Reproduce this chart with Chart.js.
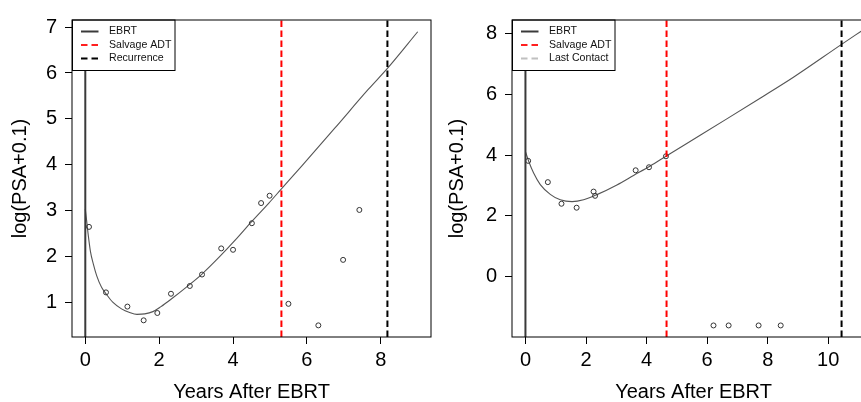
<!DOCTYPE html>
<html><head><meta charset="utf-8">
<script src="https://cdn.jsdelivr.net/npm/chart.js@4.4.0/dist/chart.umd.min.js"></script>
<style>
html,body{margin:0;padding:0;background:#fff;overflow:hidden;width:861px;height:402px;}
#wrap{position:relative;width:861px;height:402px;overflow:hidden;background:#fff;}
canvas{position:absolute;top:0;}
#c1{left:0px}
#c2{left:436px}
</style></head><body>
<div id="wrap"><canvas id="c1" width="436" height="402"></canvas><canvas id="c2" width="444" height="402"></canvas></div>
<script>
// ---------- Left panel data ----------
const xTicksA = [0, 2, 4, 6, 8];
const yTicksA = [1, 2, 3, 4, 5, 6, 7];
const xRangeA = [-0.36, 9.36];
const yRangeA = [0.236, 7.157];
const obsYearsA = [0.10, 0.56, 1.14, 1.58, 1.95, 2.32, 2.83, 3.16, 3.68, 4.00, 4.51, 4.76, 4.99, 5.50, 6.31, 6.98, 7.42];
const obsLogA   = [2.64, 1.21, 0.90, 0.60, 0.76, 1.18, 1.35, 1.60, 2.17, 2.14, 2.72, 3.16, 3.32, 0.96, 0.49, 1.92, 3.01];
const fitYearsA = [0, 0.04, 0.08, 0.14, 0.22, 0.31, 0.44, 0.57, 0.75, 0.98, 1.20, 1.40, 1.61, 1.83, 2.05, 2.32, 2.73, 3.16, 3.65, 4.07, 4.51, 4.97, 5.31, 5.87, 6.76, 7.66, 8.18, 9.00];
const fitLogA   = [3.03, 2.75, 2.46, 2.10, 1.82, 1.57, 1.32, 1.17, 0.99, 0.85, 0.77, 0.73, 0.74, 0.79, 0.90, 1.06, 1.32, 1.61, 2.00, 2.36, 2.76, 3.16, 3.47, 3.98, 4.80, 5.64, 6.10, 6.90];
const eventYearsA  = [0, 5.31, 8.18];
const legendLabelsA = ['EBRT', 'Salvage ADT', 'Recurrence'];

// ---------- Right panel data ----------
const xTicksB = [0, 2, 4, 6, 8, 10];
const yTicksB = [0, 2, 4, 6, 8];
const xRangeB = [-0.444, 11.544];
const yRangeB = [-1.98, 8.44];
const obsYearsB = [0.09, 0.74, 1.19, 1.69, 2.25, 2.30, 3.64, 4.08, 4.64, 6.21, 6.71, 7.70, 8.43];
const obsLogB   = [3.81, 3.11, 2.40, 2.27, 2.80, 2.66, 3.50, 3.60, 3.96, -1.60, -1.60, -1.60, -1.60];
const fitYearsB = [0, 0.11, 0.27, 0.49, 0.82, 1.15, 1.54, 1.92, 2.36, 3.02, 3.57, 4.12, 4.64, 5.77, 6.65, 7.75, 8.85, 10.44, 11.10];
const fitLogB   = [4.11, 3.79, 3.41, 3.03, 2.71, 2.53, 2.47, 2.53, 2.70, 3.02, 3.33, 3.64, 3.96, 4.65, 5.19, 5.87, 6.56, 7.64, 8.08];
const eventYearsB  = [0, 4.66, 10.44];
const legendLabelsB = ['EBRT', 'Salvage ADT', 'Last Contact'];

const xTitle = 'Years After EBRT';
const yTitle = 'log(PSA+0.1)';

// ---------- styles ----------
const FONT = '"Liberation Sans", Arial, Helvetica, sans-serif';
const eventStyles = [
  {color: '#3a3a3a', dash: [], width: 2},
  {color: '#ff0000', dash: [6.5, 3.5], width: 2},
  {color: '#000000', dash: [6.5, 3.5], width: 2}
];
const legendColorsA = ['#3a3a3a', '#ff2020', '#000000'];
const legendColorsB = ['#3a3a3a', '#ff2020', '#c0c0c0'];

const framePlugin = {
  id: 'frameLegend',
  afterDatasetsDraw(chart, args, opts) {
    const ctx = chart.ctx, a = chart.chartArea;
    ctx.save();
    const L = Math.round(a.left), T = Math.round(a.top);
    ctx.fillStyle = '#fff';
    ctx.fillRect(L, T, 103, 50);
    ctx.strokeStyle = '#000';
    ctx.lineWidth = 1;
    ctx.setLineDash([]);
    ctx.strokeRect(L + 0.5, T, 102.5, 50.5);
    opts.labels.forEach((t, i) => {
      const y = T + 11.5 + i * 13.5;
      ctx.beginPath();
      ctx.setLineDash(i === 0 ? [] : [6.5, 4]);
      ctx.strokeStyle = opts.colors[i];
      ctx.lineWidth = 2;
      ctx.moveTo(L + 9, y);
      ctx.lineTo(L + 26.5, y);
      ctx.stroke();
      ctx.setLineDash([]);
      ctx.fillStyle = '#111';
      ctx.font = '10.6px ' + FONT;
      ctx.textBaseline = 'middle';
      ctx.textAlign = 'left';
      ctx.fillText(t, L + 37, y);
    });
    ctx.strokeStyle = '#000';
    ctx.lineWidth = 1;
    ctx.strokeRect(L, T, Math.round(a.right) - L, Math.round(a.bottom) - T);
    ctx.restore();
  }
};

function build(canvasId, d) {
  const datasets = [];
  datasets.push({
    data: d.fitX.map((x, i) => ({x: x, y: d.fitY[i]})),
    showLine: true, borderColor: '#555', borderWidth: 1.1, pointRadius: 0,
    cubicInterpolationMode: 'monotone', fill: false, order: 3
  });
  datasets.push({
    data: d.obsX.map((x, i) => ({x: x, y: d.obsY[i]})),
    showLine: false, pointStyle: 'circle', pointRadius: 2.5,
    pointBorderColor: '#333', pointBorderWidth: 1, pointBackgroundColor: 'rgba(0,0,0,0)', order: 2
  });
  d.events.forEach((e, i) => {
    const s = eventStyles[i];
    datasets.push({
      data: [{x: e, y: d.yRange[0]}, {x: e, y: d.yRange[1]}],
      showLine: true, borderColor: s.color, borderWidth: s.width, borderDash: s.dash,
      pointRadius: 0, fill: false, order: 1
    });
  });

  const tickFont = {family: FONT, size: 20};
  return new Chart(document.getElementById(canvasId), {
    type: 'scatter',
    data: {datasets},
    plugins: [framePlugin],
    options: {
      responsive: false, animation: false, devicePixelRatio: 1, events: [],
      layout: {padding: {top: 14, right: d.padRight, left: 0, bottom: 0}},
      plugins: {
        legend: {display: false}, tooltip: {enabled: false},
        frameLegend: {labels: d.legend, colors: d.legendColors}
      },
      scales: {
        x: {
          type: 'linear', min: d.xRange[0], max: d.xRange[1], bounds: 'data',
          afterBuildTicks: s => { s.ticks = d.xTicks.map(v => ({value: v})); },
          afterFit: s => { s.height = 65; },
          grid: {display: true, drawOnChartArea: false, drawTicks: true, tickLength: 7, color: '#000', lineWidth: 1},
          border: {display: false},
          ticks: {color: '#000', font: tickFont, padding: 4, maxRotation: 0, autoSkip: false},
          title: {display: true, text: xTitle, color: '#000', font: {family: FONT, size: 20, lineHeight: 1}, padding: {top: 0, bottom: 0}}
        },
        y: {
          type: 'linear', min: d.yRange[0], max: d.yRange[1], bounds: 'data',
          afterBuildTicks: s => { s.ticks = d.yTicks.map(v => ({value: v})); },
          afterFit: s => { s.width = d.yAxisWidth; },
          grid: {display: true, drawOnChartArea: false, drawTicks: true, tickLength: 7, color: '#000', lineWidth: 1},
          border: {display: false},
          ticks: {color: '#000', font: tickFont, padding: 8, autoSkip: false},
          title: {display: true, text: yTitle, color: '#000', font: {family: FONT, size: 20, lineHeight: 1}, padding: {top: d.yTitlePad, bottom: 0}}
        }
      }
    }
  });
}

build('c1', {
  xTicks: xTicksA, yTicks: yTicksA, xRange: xRangeA, yRange: yRangeA,
  obsX: obsYearsA, obsY: obsLogA, fitX: fitYearsA, fitY: fitLogA,
  events: eventYearsA, legend: legendLabelsA, legendColors: legendColorsA,
  padRight: 3, yAxisWidth: 72, yTitlePad: 10.5
});
build('c2', {
  xTicks: xTicksB, yTicks: yTicksB, xRange: xRangeB, yRange: yRangeB,
  obsX: obsYearsB, obsY: obsLogB, fitX: fitYearsB, fitY: fitLogB,
  events: eventYearsB, legend: legendLabelsB, legendColors: legendColorsB,
  padRight: 5, yAxisWidth: 76, yTitlePad: 11
});
</script>
</body></html>
